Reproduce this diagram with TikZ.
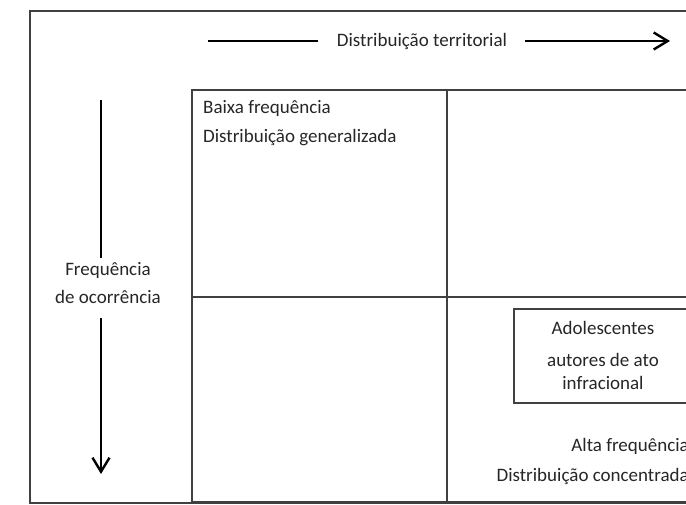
\documentclass[tikz,border=0pt]{standalone}
\usepackage{fontspec}
\setmainfont{Carlito}
\usetikzlibrary{arrows.meta}
\begin{document}
\begin{tikzpicture}[x=1pt,y=-1pt,
  frame/.style={draw=black!75,line width=1.2pt},
  arr/.style={line width=2.2pt,draw=black},
  tip/.style={-{Straight Barb[length=14pt,width=17pt,line width=2.4pt]}},
  lbl/.style={inner sep=0pt,text=black!85,font=\fontsize{19}{22}\selectfont}]
\useasboundingbox (0,0) rectangle (686,504);
\clip (0,0) rectangle (686,504);
% frames
\draw[frame] (30,11) rectangle (720,503);
\draw[frame] (192,90) rectangle (720,502);
\draw[frame] (447,90) -- (447,502);
\draw[frame] (192,297) -- (720,297);
\draw[frame] (514,309) rectangle (720,403);
% horizontal arrow
\node[lbl] (ht) at (422,41) {Distribuição territorial};
\coordinate (h1) at (208,41);
\coordinate (h2) at (318,41);
\coordinate (h3) at (525,41);
\coordinate (h4) at (670,41);
\draw[arr] (h1) -- (h2);
\draw[arr,tip] (h3) -- (h4);
% vertical arrow
\node[lbl] (vt1) at (108,270) {Frequência};
\node[lbl] (vt2) at (108,297) {de ocorrência};
\coordinate (v1) at (101,100);
\coordinate (v2) at (101,258);
\coordinate (v3) at (101,318);
\coordinate (v4) at (101,474);
\draw[arr] (v1) -- (v2);
\draw[arr,tip] (v3) -- (v4);
% quadrant texts
\node[lbl,anchor=west] (q1) at (203,108) {Baixa frequência};
\node[lbl,anchor=west] (q2) at (203,138) {Distribuição generalizada};
\node[lbl] (b1) at (603,328) {Adolescentes};
\node[lbl] (b2) at (603,360) {autores de ato};
\node[lbl] (b3) at (603,383) {infracional};
\node[lbl,anchor=east] (a1) at (689,446) {Alta frequência};
\node[lbl,anchor=east] (a2) at (689,476) {Distribuição concentrada};
\end{tikzpicture}
\end{document}
